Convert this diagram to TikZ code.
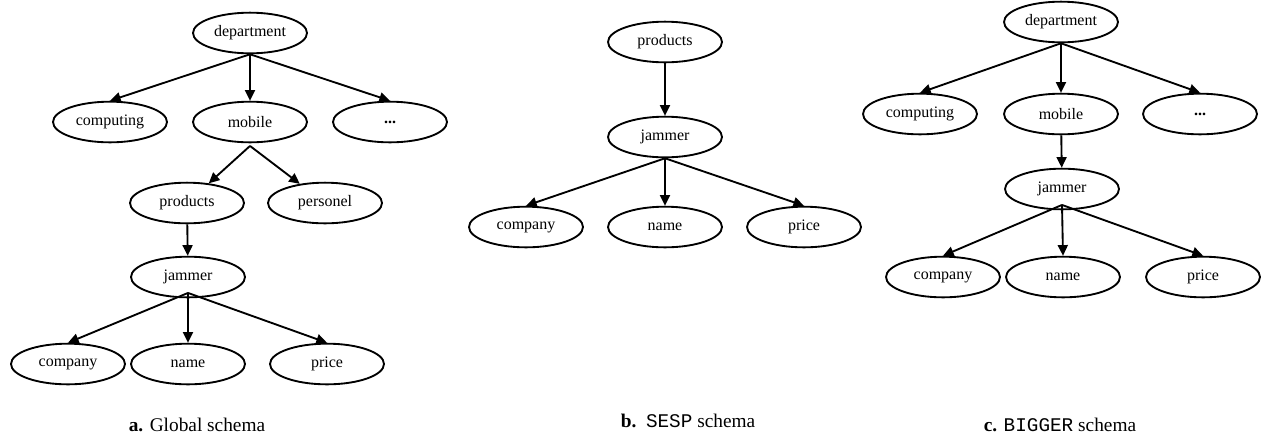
\documentclass[tikz,border=0pt]{standalone}
\usepackage{fontspec}
\setmainfont{Liberation Serif}
\setmonofont{Liberation Mono}
\usetikzlibrary{arrows.meta,shapes.geometric}

\begin{document}
\begin{tikzpicture}[x=0.75pt,y=-0.75pt,>={Triangle[length=8pt,width=7.5pt]},
    elem/.style={ellipse,draw,line width=1.4pt,minimum width=85.5pt,minimum height=30.5pt,inner sep=0pt,font=\fontsize{12}{14}\selectfont},
    link/.style={->,line width=1.4pt},
    capt/.style={font=\fontsize{14.5}{17}\selectfont}]
  \useasboundingbox (0,0) rectangle (1262,437);
  % a. global schema
  \node[elem] (deptA) at (250,33) {department};
  \node[elem] (compA) at (110,122) {computing};
  \node[elem] (mobA) at (250,122) {mobile};
  \node[elem] (moreA) at (390,122) {\textbf{...}};
  \node[elem] (prodA) at (187,203) {products};
  \node[elem] (persA) at (325,203) {personel};
  \node[elem] (jamA) at (188,277) {jammer};
  \node[elem] (coA) at (68,364) {company};
  \node[elem] (naA) at (188,364) {name};
  \node[elem] (prA) at (327,364) {price};
  \foreach \n in {compA,mobA,moreA} \draw[link] (deptA.south) -- (\n.north);
  \foreach \n in {prodA,persA} \draw[link] ([yshift=-2pt]mobA.south) -- (\n);
  \draw[link] (prodA) -- (jamA);
  \foreach \n in {coA,naA,prA} \draw[link] ([yshift=4pt]jamA.south) -- (\n.north);
  \node[capt] (captA) at (197,425) {\textbf{a.} Global schema};
  % b. SESP schema
  \node[elem] (prodB) at (665,42) {products};
  \node[elem] (jamB) at (665,137) {jammer};
  \node[elem] (coB) at (526,227) {company};
  \node[elem] (naB) at (665,227) {name};
  \node[elem] (prB) at (804,227) {price};
  \draw[link] (prodB) -- (jamB);
  \foreach \n in {coB,naB,prB} \draw[link] (jamB.south) -- (\n.north);
  \node[capt] (captB) at (688,421) {\textbf{b.}\ \ \texttt{SESP} schema};
  % c. BIGGER schema
  \node[elem] (deptC) at (1061,22) {department};
  \node[elem] (compC) at (920,114) {computing};
  \node[elem] (mobC) at (1061,114) {mobile};
  \node[elem] (moreC) at (1200,114) {\textbf{...}};
  \node[elem] (jamC) at (1062,189) {jammer};
  \node[elem] (coC) at (943,277) {company};
  \node[elem] (naC) at (1063,277) {name};
  \node[elem] (prC) at (1203,277) {price};
  \foreach \n in {compC,mobC,moreC} \draw[link] (deptC.south) -- (\n.north);
  \draw[link] (mobC) -- (jamC);
  \foreach \n in {coC,naC,prC} \draw[link] ([yshift=4pt]jamC.south) -- (\n.north);
  \node[capt] (captC) at (1060,425) {\textbf{c.} \texttt{BIGGER} schema};
\end{tikzpicture}
\end{document}
